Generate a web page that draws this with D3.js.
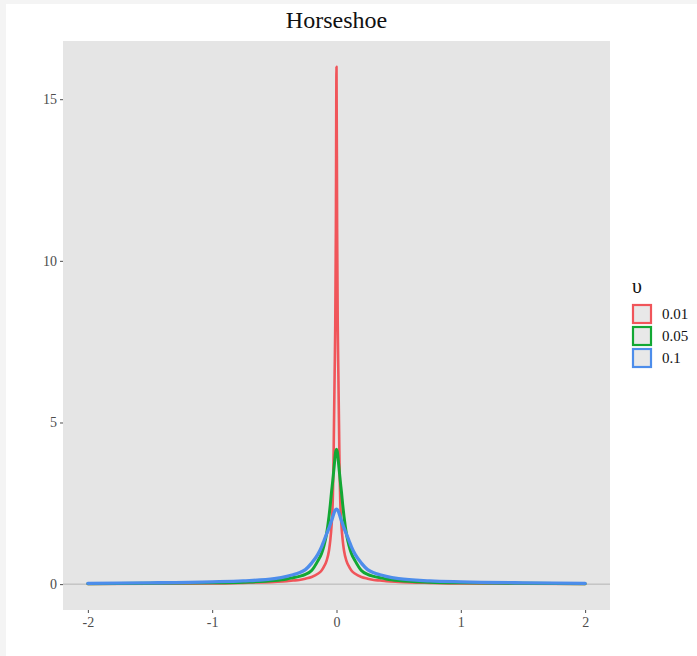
<!DOCTYPE html>
<html>
<head>
<meta charset="utf-8">
<script src="https://cdn.jsdelivr.net/npm/d3@7"></script>
<style>
  html, body { margin: 0; padding: 0; background: #ffffff; }
  svg { display: block; }
</style>
</head>
<body>
<script>
// ---- data ----
const xValues = [-2,-1.5,-1,-0.75,-0.5,-0.4,-0.35,-0.3,-0.25,-0.2,-0.15,-0.12,-0.1,-0.08,-0.06,-0.05,-0.04,-0.03,-0.025,-0.02,-0.015,-0.01,-0.005,0,
                 0.005,0.01,0.015,0.02,0.025,0.03,0.04,0.05,0.06,0.08,0.1,0.12,0.15,0.2,0.25,0.3,0.35,0.4,0.5,0.75,1,1.5,2];
const densityV001 = [0.008,0.012,0.02,0.04,0.07,0.09,0.11,0.13,0.17,0.22,0.32,0.42,0.55,0.72,1.05,1.35,1.8,2.6,3.5,5.0,6.5,8.0,11.0,16.0,
                     11.0,8.0,6.5,5.0,3.5,2.6,1.8,1.35,1.05,0.72,0.55,0.42,0.32,0.22,0.17,0.13,0.11,0.09,0.07,0.04,0.02,0.012,0.008];
const densityV005 = [0.015,0.025,0.04,0.06,0.11,0.16,0.2,0.24,0.3,0.42,0.72,0.95,1.2,1.55,2.1,2.45,2.85,3.2,3.4,3.6,3.8,4.0,4.12,4.17,
                     4.12,4.0,3.8,3.6,3.4,3.2,2.85,2.45,2.1,1.55,1.2,0.95,0.72,0.42,0.3,0.24,0.2,0.16,0.11,0.06,0.04,0.025,0.015];
const densityV01  = [0.025,0.04,0.07,0.1,0.17,0.24,0.29,0.35,0.45,0.65,0.92,1.15,1.35,1.55,1.74,1.85,1.96,2.08,2.14,2.2,2.25,2.29,2.31,2.32,
                     2.31,2.29,2.25,2.2,2.14,2.08,1.96,1.85,1.74,1.55,1.35,1.15,0.92,0.65,0.45,0.35,0.29,0.24,0.17,0.1,0.07,0.04,0.025];
const seriesNames = ["0.01", "0.05", "0.1"];
const seriesValues = [densityV001, densityV005, densityV01];
const xTicks = [-2, -1, 0, 1, 2];
const yTicks = [0, 5, 10, 15];
const chartTitle = "Horseshoe";
const legendTitle = "υ";

// ---- layout / style ----
const W = 697, H = 656;
const panel = { left: 63, right: 610, top: 41, bottom: 610 };
const colors = ["#F0555A", "#12A834", "#4D8DEB"];
const serif = "'Liberation Serif', 'DejaVu Serif', serif";

const svg = d3.select("body").append("svg").attr("width", W).attr("height", H);
svg.append("rect").attr("width", W).attr("height", H).attr("fill", "#f4f4f4");
svg.append("rect").attr("x", 6).attr("y", 4).attr("width", W - 6).attr("height", H - 4).attr("fill", "#ffffff");

const x = d3.scaleLinear().domain([-2.2, 2.2]).range([panel.left, panel.right]);
const y = d3.scaleLinear().domain([-0.8, 16.8]).range([panel.bottom, panel.top]);

svg.append("rect")
  .attr("x", panel.left).attr("y", panel.top)
  .attr("width", panel.right - panel.left).attr("height", panel.bottom - panel.top)
  .attr("fill", "#e5e5e5");

// baseline at zero
svg.append("line")
  .attr("x1", panel.left).attr("x2", panel.right)
  .attr("y1", y(0)).attr("y2", y(0))
  .attr("stroke", "#b3b3b3").attr("stroke-width", 1);

// curves
const line = d3.line()
  .x((d, i) => x(xValues[i]))
  .y(d => y(d))
  .curve(d3.curveMonotoneX);

svg.append("g").selectAll("path")
  .data(seriesValues)
  .join("path")
  .attr("d", d => line(d))
  .attr("fill", "none")
  .attr("stroke", (d, i) => colors[i])
  .attr("stroke-width", (d, i) => i === 0 ? 2.6 : (i === 1 ? 3 : 3.3))
  .attr("stroke-linejoin", "round")
  .attr("stroke-linecap", "round");

// axes
const xAxis = svg.append("g")
  .attr("transform", `translate(0,${panel.bottom})`)
  .call(d3.axisBottom(x).tickValues(xTicks).tickSize(3).tickPadding(4).tickFormat(d => String(d)));
const yAxis = svg.append("g")
  .attr("transform", `translate(${panel.left},0)`)
  .call(d3.axisLeft(y).tickValues(yTicks).tickSize(3).tickPadding(3).tickFormat(d => String(d)));

[xAxis, yAxis].forEach(g => {
  g.select(".domain").remove();
  g.selectAll(".tick line").attr("stroke", "#4d4d4d").attr("stroke-width", 1);
  g.selectAll(".tick text")
    .attr("fill", "#4d4d4d")
    .attr("font-family", serif)
    .attr("font-size", 14);
});

// title
svg.append("text")
  .attr("x", (panel.left + panel.right) / 2).attr("y", 28)
  .attr("text-anchor", "middle")
  .attr("font-family", serif).attr("font-size", 24)
  .attr("fill", "#111")
  .text(chartTitle);

// legend
const lg = svg.append("g").attr("transform", "translate(632,0)");
lg.append("text")
  .attr("x", 0).attr("y", 293)
  .attr("font-family", serif).attr("font-size", 20)
  .attr("fill", "#111")
  .text(legendTitle);
const items = lg.selectAll("g.item")
  .data(seriesNames)
  .join("g")
  .attr("class", "item")
  .attr("transform", (d, i) => `translate(0,${304 + i * 22})`);
items.append("rect")
  .attr("x", 1).attr("y", 1).attr("width", 18).attr("height", 18)
  .attr("fill", "#e8e8e8")
  .attr("stroke", (d, i) => colors[i])
  .attr("stroke-width", 2.2);
items.append("text")
  .attr("x", 30).attr("y", 15)
  .attr("font-family", serif).attr("font-size", 15)
  .attr("fill", "#111")
  .text(d => d);
</script>
</body>
</html>
